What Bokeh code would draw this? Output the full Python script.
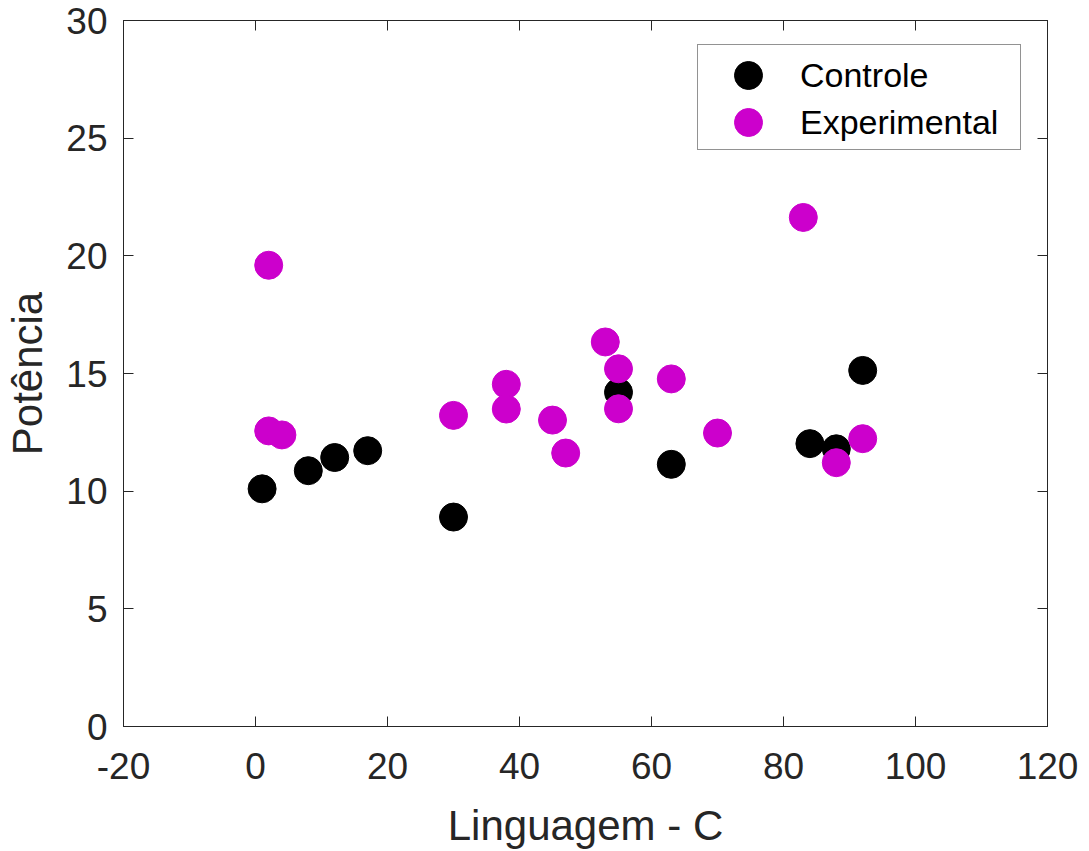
from bokeh.plotting import figure
from bokeh.models import Range1d, LinearAxis, FixedTicker, Legend, LegendItem
from bokeh.embed import file_html
from bokeh.resources import INLINE

# Data
ctrl_x = [1, 8, 12, 17, 30, 55, 63, 84, 88, 92]
ctrl_y = [10.1, 10.87, 11.43, 11.72, 8.9, 14.2, 11.14, 12.02, 11.8, 15.13]

exp_x = [2, 2, 4, 30, 38, 38, 45, 47, 53, 55, 55, 63, 70, 83, 88, 92]
exp_y = [19.6, 12.56, 12.39, 13.22, 14.54, 13.49, 13.02, 11.62, 16.34, 15.2, 13.5,
         14.77, 12.47, 21.63, 11.21, 12.23]

series_names = ["Controle", "Experimental"]
x_ticks = [-20, 0, 20, 40, 60, 80, 100, 120]
y_ticks = [0, 5, 10, 15, 20, 25, 30]

TXT = "#262626"
FONT = "Liberation Sans"

p = figure(frame_width=924, frame_height=706, output_backend="svg",
           toolbar_location=None,
           x_range=Range1d(-20, 120), y_range=Range1d(0, 30),
           min_border_left=123, min_border_right=42, min_border_top=20,
           min_border_bottom=125)
p.background_fill_color = "white"
p.border_fill_color = "white"
p.outline_line_color = TXT
p.outline_line_width = 1
p.xgrid.visible = False
p.ygrid.visible = False

r_ctrl = p.scatter(ctrl_x, ctrl_y, size=28, color="#000000")
r_exp = p.scatter(exp_x, exp_y, size=28, color="#CC00CC")

def style_axis(ax, ticks, show_labels=True):
    ax.ticker = FixedTicker(ticks=ticks)
    ax.major_tick_in = 10
    ax.major_tick_out = 0
    ax.minor_tick_line_color = None
    ax.axis_line_color = TXT
    ax.major_tick_line_color = TXT
    ax.major_label_text_color = TXT
    ax.major_label_text_font = FONT
    if show_labels:
        ax.major_label_text_font_size = "37px"
        ax.major_label_overrides = {t: str(t) for t in ticks}
    else:
        ax.major_label_text_font_size = "1px"
        ax.major_label_overrides = {t: "" for t in ticks}
        ax.major_label_standoff = 0

xa = p.xaxis[0]
ya = p.yaxis[0]
style_axis(xa, x_ticks)
style_axis(ya, y_ticks)
xa.major_label_standoff = 26
ya.major_label_standoff = 16
xa.axis_label = "Linguagem - C"
ya.axis_label = "Potência"
for ax in (xa, ya):
    ax.axis_label_text_font = FONT
    ax.axis_label_text_font_size = "42px"
    ax.axis_label_text_font_style = "normal"
    ax.axis_label_text_color = TXT
xa.axis_label_standoff = 20
ya.axis_label_standoff = 12

top = LinearAxis()
style_axis(top, x_ticks, show_labels=False)
p.add_layout(top, "above")
right = LinearAxis()
style_axis(right, y_ticks, show_labels=False)
p.add_layout(right, "right")

# Legend box (border only)
box = Legend(items=[LegendItem(label=" ", renderers=[])],
             location=(574, 576), padding=0, margin=0,
             glyph_width=1, glyph_height=104, label_height=104,
             label_width=321, label_standoff=0,
             border_line_color=TXT, border_line_width=1,
             background_fill_color="white", background_fill_alpha=1,
             label_text_font_size="10px")
p.add_layout(box, "center")

def entry(name, rend, vy):
    lg = Legend(items=[LegendItem(label=name, renderers=[rend])],
                location=(590, vy), padding=0, margin=0,
                glyph_width=70, glyph_height=70, label_height=70,
                label_standoff=17, spacing=0,
                border_line_color=None, background_fill_alpha=0,
                label_text_font=FONT, label_text_font_size="34px",
                label_text_color="#000000")
    p.add_layout(lg, "center")

entry(series_names[0], r_ctrl, 616)
entry(series_names[1], r_exp, 569)

open("out.html", "w").write(file_html(p, INLINE))
